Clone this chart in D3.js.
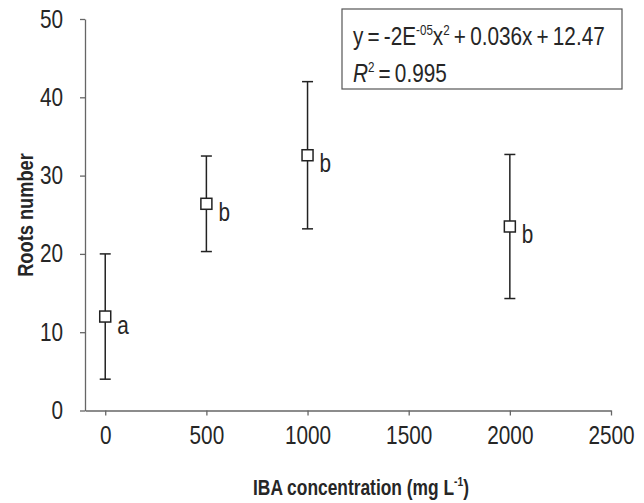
<!DOCTYPE html>
<html>
<head>
<meta charset="utf-8">
<script src="https://cdn.jsdelivr.net/npm/d3@7"></script>
<style>
  body { margin: 0; background: #fff; }
  text { font-family: "Liberation Sans", Arial, sans-serif; }
  /* no narrow face installed, so squeeze the regular one */
  .narrow-c { transform: scaleX(0.83); transform-box: fill-box; transform-origin: center; }
  .narrow-r { transform: scaleX(0.83); transform-box: fill-box; transform-origin: right center; }
  .narrow-l { transform: scaleX(0.83); transform-box: fill-box; transform-origin: left center; }
</style>
</head>
<body>
<div id="chart"></div>
<script>
// data
const concentrations = [0, 500, 1000, 2000];
const meanRoots = [12.0, 26.4, 32.6, 23.5];
const errRoots = [8.0, 6.1, 9.4, 9.2];
const groupLetters = ["a", "b", "b", "b"];
const xTicks = [0, 500, 1000, 1500, 2000, 2500];
const yTicks = [0, 10, 20, 30, 40, 50];

const width = 644, height = 503;
const axisColor = "#666";
const markColor = "#222";
const textColor = "#262626";

const svg = d3.select("#chart")
  .append("svg")
  .attr("width", width)
  .attr("height", height);

const xScale = d3.scaleLinear().domain([-100, 2500]).range([85, 611]);
const yScale = d3.scaleLinear().domain([0, 50]).range([410.5, 19]);

// x axis
svg.append("g")
  .attr("transform", `translate(0,${yScale(0)})`)
  .call(d3.axisBottom(xScale).tickValues(xTicks).tickFormat(d3.format("d")).tickSize(5).tickPadding(11).tickSizeOuter(0))
  .call(g => g.select(".domain").attr("stroke", axisColor).attr("stroke-width", 1.3))
  .call(g => g.selectAll(".tick line").attr("stroke", axisColor).attr("stroke-width", 1.3))
  .call(g => g.selectAll(".tick text").attr("class", "narrow-c").attr("fill", textColor).style("font-size", "25px"));

// y axis
svg.append("g")
  .attr("transform", `translate(${xScale(-100)},0)`)
  .call(d3.axisLeft(yScale).tickValues(yTicks).tickSize(5).tickPadding(17).tickSizeOuter(0))
  .call(g => g.select(".domain").attr("stroke", axisColor).attr("stroke-width", 1.3))
  .call(g => g.selectAll(".tick line").attr("stroke", axisColor).attr("stroke-width", 1.3))
  .call(g => g.selectAll(".tick text").attr("class", "narrow-r").attr("fill", textColor).style("font-size", "25px"));

// axis titles
svg.append("text")
  .attr("transform", "translate(33,215) rotate(-90) scale(0.83,1)")
  .attr("text-anchor", "middle")
  .style("font-size", "22px")
  .style("font-weight", "bold")
  .attr("fill", textColor)
  .text("Roots number");

const xTitle = svg.append("text")
  .attr("transform", "translate(361,495) scale(0.79,1)")
  .attr("text-anchor", "middle")
  .style("font-size", "22px")
  .style("font-weight", "bold")
  .attr("fill", textColor);
xTitle.append("tspan").text("IBA concentration (mg L");
xTitle.append("tspan").attr("dy", -9).style("font-size", "13px").text("-1");
xTitle.append("tspan").attr("dy", 9).text(")");

// points with error bars
const pts = concentrations.map((c, i) => ({ c, m: meanRoots[i], e: errRoots[i], l: groupLetters[i] }));
const cap = 5.5, half = 5.5;

const pg = svg.append("g")
  .selectAll("g")
  .data(pts)
  .join("g");

pg.append("line")
  .attr("x1", d => xScale(d.c)).attr("x2", d => xScale(d.c))
  .attr("y1", d => yScale(d.m - d.e)).attr("y2", d => yScale(d.m + d.e))
  .attr("stroke", markColor).attr("stroke-width", 1.5);

pg.append("line")
  .attr("x1", d => xScale(d.c) - cap).attr("x2", d => xScale(d.c) + cap)
  .attr("y1", d => yScale(d.m + d.e)).attr("y2", d => yScale(d.m + d.e))
  .attr("stroke", markColor).attr("stroke-width", 1.5);

pg.append("line")
  .attr("x1", d => xScale(d.c) - cap).attr("x2", d => xScale(d.c) + cap)
  .attr("y1", d => yScale(d.m - d.e)).attr("y2", d => yScale(d.m - d.e))
  .attr("stroke", markColor).attr("stroke-width", 1.5);

pg.append("rect")
  .attr("x", d => xScale(d.c) - half)
  .attr("y", d => yScale(d.m) - half)
  .attr("width", half * 2).attr("height", half * 2)
  .attr("fill", "#fff")
  .attr("stroke", markColor).attr("stroke-width", 1.5);

pg.append("text")
  .attr("class", "narrow-l")
  .attr("x", d => xScale(d.c) + 12)
  .attr("y", d => yScale(d.m) + 17)
  .style("font-size", "25px")
  .attr("fill", textColor)
  .text(d => d.l);

// equation box
svg.append("rect")
  .attr("x", 342).attr("y", 9)
  .attr("width", 280).attr("height", 80)
  .attr("fill", "#fff")
  .attr("stroke", "#555").attr("stroke-width", 1.2);

const eq1 = svg.append("text").attr("class", "narrow-l")
  .attr("x", 353).attr("y", 45).style("font-size", "25px").attr("fill", textColor);
eq1.append("tspan").text("y\u2009=\u2009-2E");
eq1.append("tspan").attr("dy", -10).style("font-size", "14px").text("-05");
eq1.append("tspan").attr("dy", 10).text("x");
eq1.append("tspan").attr("dy", -10).style("font-size", "14px").text("2");
eq1.append("tspan").attr("dy", 10).text("\u2009+\u20090.036x\u2009+\u200912.47");

const eq2 = svg.append("text").attr("class", "narrow-l")
  .attr("x", 353).attr("y", 82).style("font-size", "25px").attr("fill", textColor);
eq2.append("tspan").style("font-style", "italic").text("R");
eq2.append("tspan").attr("dy", -10).style("font-size", "14px").text("2");
eq2.append("tspan").attr("dy", 10).text("\u2009=\u20090.995");
</script>
</body>
</html>
